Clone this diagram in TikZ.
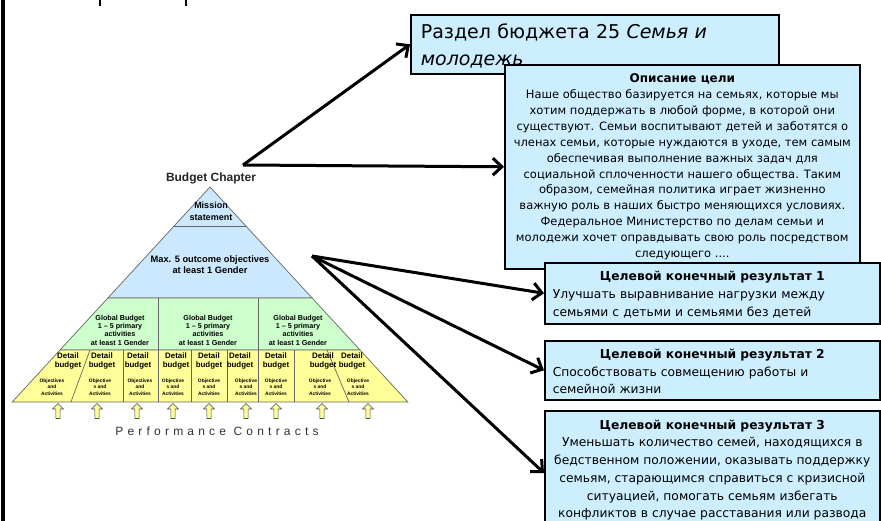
\documentclass[tikz,border=0pt]{standalone}
\usepackage{fontspec}
\setmainfont{Liberation Sans}
\newfontfamily\tahoma{DejaVu Sans}
\usetikzlibrary{arrows.meta, shapes.arrows, positioning}

\definecolor{boxblue}{RGB}{204,238,255}
\definecolor{pyrblue}{RGB}{204,232,255}
\definecolor{pyrgreen}{RGB}{204,255,204}
\definecolor{pyryellow}{RGB}{255,255,153}

\begin{document}
\begin{tikzpicture}[x=1pt, y=-1pt, >={Straight Barb[length=9pt, width=17pt]},
    link/.style={->, line width=3pt},
    textbox/.style={draw, line width=1.6pt, fill=boxblue, anchor=north west},
    result/.style={textbox, text width=319pt, inner xsep=8pt, inner ysep=0pt,
      align=left, font=\tahoma\fontsize{12.3}{17.6}\selectfont},
    tier/.style={draw=black!60, line width=0.7pt},
    detail/.style={font=\bfseries\fontsize{7.9}{8.3}\selectfont, align=center, inner sep=0pt},
    objective/.style={font=\bfseries\fontsize{4.9}{6.3}\selectfont, align=center, inner sep=0pt},
    feeder/.style={single arrow, draw=black!70, fill=pyryellow, rotate=90, line width=0.6pt,
      minimum height=15pt, minimum width=11pt, single arrow head extend=2.5pt, inner sep=1.2pt}]
  \clip (0,0) rectangle (881,521);

  % slide edge and cut-off title
  \draw[line width=3.5pt] (3,0) -- (3,521);
  \draw[line width=2pt] (100,0) -- (100,6) (186,0) -- (186,6);

  % pyramid
  \filldraw[tier, fill=pyrblue] (210,187) -- (312.1,298) -- (107.9,298) -- cycle;
  \draw[tier] (174.1,226) -- (245.9,226);
  \filldraw[tier, fill=pyrgreen] (107.9,298) -- (312.1,298) -- (360,350) -- (60,350) -- cycle;
  \draw[tier] (158,298) -- (158,350) (258,298) -- (258,350);
  \filldraw[tier, fill=pyryellow] (60,350) -- (360,350) -- (407.8,402) -- (12.2,402) -- cycle;
  \draw[tier] (90,350) -- (71,402) (327,350) -- (349,402);
  \foreach \x in {123,158,191,227,258,294}
    \draw[tier] (\x,350) -- (\x,402);

  \node[font=\bfseries\fontsize{12}{14}\selectfont, text=black!85] (chapter) at (211,178) {Budget Chapter};
  \node[detail, font=\bfseries\fontsize{9}{12}\selectfont] (mission) at (211,211) {Mission\\statement};
  \node[detail, font=\bfseries\fontsize{9.3}{11}\selectfont] (outcomes) at (210,265) {Max. 5 outcome objectives\\at least 1 Gender};
  \foreach \x [count=\i] in {120,208,298}
    \node[detail, font=\bfseries\fontsize{7.2}{8.3}\selectfont] (global\i) at (\x,330)
      {Global Budget\\1 -- 5 primary\\activities\\at least 1 Gender};
  \foreach \dx/\ox/\wa/\wb [count=\i] in {68/52/Objectives/and, 102/100/Objective/s and,
      138/140/Objectives/and, 176/173/Objective/s and, 209/209/Objective/s and,
      240/246/Objective/s and, 276/276/Objective/s and, 323/320/Objective/s and,
      352/358/Objective/s and} {
    \node[detail] (detail\i) at (\dx,361) {Detail\\budget};
    \node[objective] (obj\i) at (\ox,387) {\wa\\\wb\\Activities};
  }
  \foreach \x [count=\i] in {58,97,137,173,209,246,276,322,368}
    \node[feeder] (feed\i) at (\x,412) {};
  \node[font=\fontsize{12}{13}\selectfont\addfontfeature{LetterSpace=35}, text=black!80]
    (contracts) at (217,431) {Performance Contracts};

  % boxes on the right
  \node[textbox, text width=348pt, inner xsep=10pt, inner ysep=0pt, minimum height=59pt,
    align=left, font=\tahoma\fontsize{19}{27}\selectfont] (chaptitle) at (410,14)
    {\rule{0pt}{19pt}Раздел бюджета 25 \textit{Семья и}\\\textit{молодежь}};
  \node[textbox, minimum width=355pt, minimum height=204pt, inner sep=2pt, align=center,
    font=\tahoma\fontsize{11.5}{15.9}\selectfont] (descr) at (504,64)
    {\textbf{\fontsize{12}{15.9}\selectfont Описание цели}\\
     Наше общество базируется на семьях, которые мы\\
     хотим поддержать в любой форме, в которой они\\
     существуют. Семьи воспитывают детей и заботятся о\\
     членах семьи, которые нуждаются в уходе, тем самым\\
     обеспечивая выполнение важных задач для\\
     социальной сплоченности нашего общества. Таким\\
     образом, семейная политика играет жизненно\\
     важную роль в наших быстро меняющихся условиях.\\
     Федеральное Министерство по делам семьи и\\
     молодежи хочет оправдывать свою роль посредством\\
     следующего ....};
  \node[result, minimum height=61pt] (res1) at (544,262)
    {{\centering\rule{0pt}{12pt}\textbf{Целевой конечный результат 1}\par}
     Улучшать выравнивание нагрузки между\\семьями с детьми и семьями без детей};
  \node[result, minimum height=59pt] (res2) at (544,340)
    {{\centering\rule{0pt}{12pt}\textbf{Целевой конечный результат 2}\par}
     Способствовать совмещению работы и\\семейной жизни};
  \node[textbox, minimum width=335pt, inner xsep=2pt, inner ysep=9pt, align=center,
    font=\tahoma\fontsize{12.3}{17.7}\selectfont] (res3) at (544,410)
    {\textbf{Целевой конечный результат 3}\\
     Уменьшать количество семей, находящихся в\\
     бедственном положении, оказывать поддержку\\
     семьям, старающимся справиться с кризисной\\
     ситуацией, помогать семьям избегать\\
     конфликтов в случае расставания или развода};

  % connectors
  \coordinate (chapfrom) at (243,165);
  \coordinate (goalfrom) at (312,256);
  \path[link] (chapfrom) edge (chaptitle.west) edge (descr.west)
        (goalfrom) edge (res1.west) edge (res2.west) edge ([yshift=-3pt]res3.west);
\end{tikzpicture}
\end{document}
